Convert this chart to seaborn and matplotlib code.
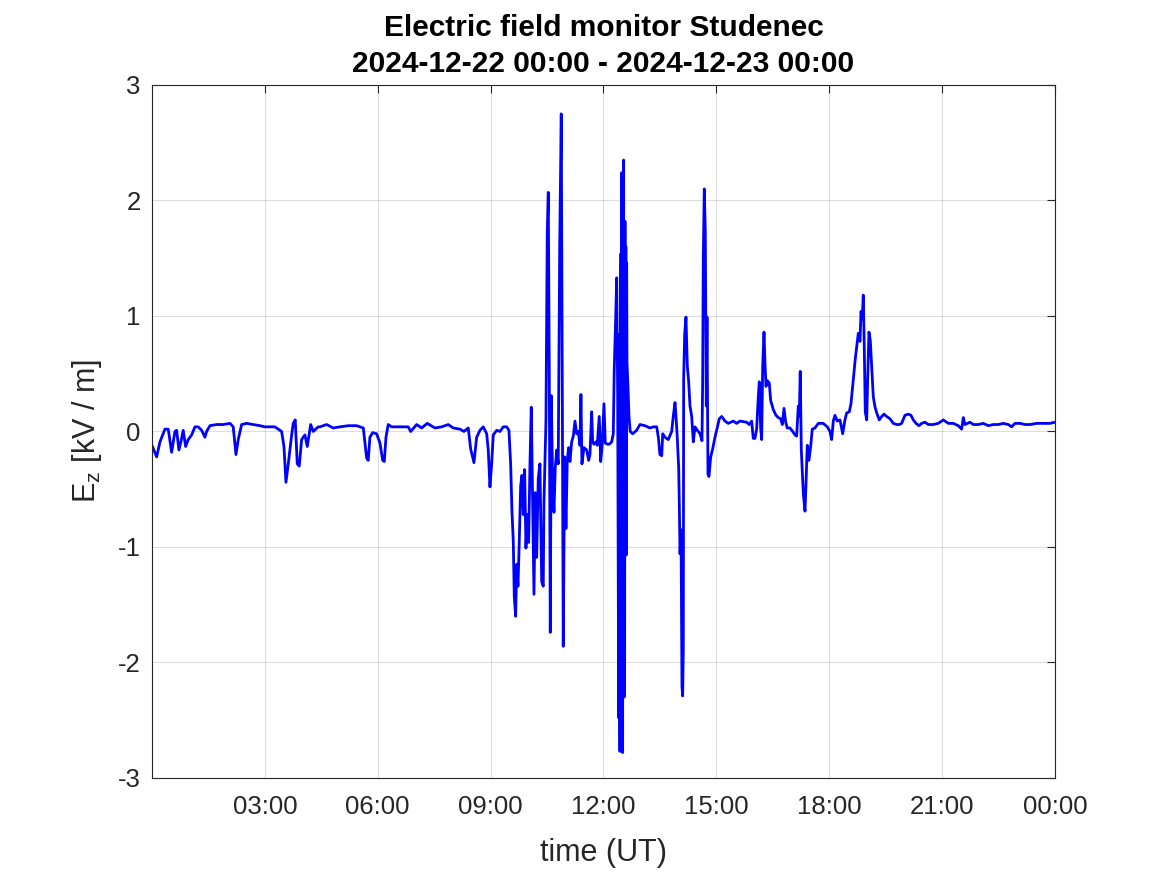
import pandas as pd
import seaborn as sns
import matplotlib.pyplot as plt
import matplotlib.dates as mdates

# Ez record: minutes after 2024-12-22 00:00 UT, values in kV/m
night_min = [0, 7.5, 12.8, 20.7, 26, 31.4, 36.7, 39.4, 43, 46.2, 49.9, 53.7, 57.9, 63.3, 68.6, 73.8,
             79.3, 84.5, 87.2, 92.5, 103.2, 113.7, 124.4, 129.6, 134, 137.6, 143, 151, 161.5, 172.2,
             180.2, 196.1, 201.4, 206.8, 210.5, 213.7, 217.4, 222.8, 225.3, 228.5, 231.7, 234.9,
             238.7, 244, 247.7, 253.1, 257.2, 265.2, 267.9, 278.6, 289.1, 299.8, 313, 326.4, 337,
             342.4, 344.9, 347.6, 351.9, 358.3, 363.6, 367.9, 370.5, 373.2, 376.8, 382.3, 395.5,
             408.7, 412.6, 422.1, 430.1, 439, 451.3, 462, 472.5, 480.5, 491.2, 497.5, 504.4, 508.2,
             513.5, 517.8, 523.1, 528.3, 533.8, 536.3, 539, 541.7, 544.3, 549.7, 555, 560.2, 565.6, 569.3]
night_ez = [-0.12, -0.22, -0.09, 0.02, 0.02, -0.18, 0.0, 0.01, -0.16, -0.09, 0.01, -0.13, -0.07, -0.03,
            0.04, 0.04, 0.01, -0.05, 0.0, 0.05, 0.06, 0.06, 0.07, 0.04, -0.20, -0.07, 0.06, 0.07, 0.06,
            0.05, 0.04, 0.04, 0.02, 0.0, -0.13, -0.44, -0.28, -0.03, 0.07, 0.10, -0.28, -0.30, -0.07,
            -0.03, -0.13, 0.06, 0.0, 0.04, 0.04, 0.06, 0.03, 0.04, 0.05, 0.05, 0.03, -0.23, -0.25,
            -0.05, -0.01, -0.02, -0.10, -0.25, -0.26, -0.05, 0.06, 0.04, 0.04, 0.04, 0.0, 0.06, 0.03,
            0.07, 0.03, 0.04, 0.06, 0.03, 0.02, 0.0, 0.03, -0.15, -0.27, -0.05, 0.01, 0.04, -0.02,
            -0.16, -0.48, -0.28, -0.03, 0.01, 0.0, 0.04, 0.04, 0.01]

storm1_min = [572, 574.1, 576.2, 577.8, 580, 581.6, 583.7, 585.7, 588, 590, 592.1, 594.3, 596.4, 598.5,
              600.7, 602.8, 604.9, 607.1, 609.2, 611.3, 613.5, 616, 618.7, 621.5, 624, 625.1, 628.3,
              630.4, 632, 633.6, 635.2, 636.8, 639, 641.1, 643.1, 645.4, 647.9, 650.2, 652.7, 654.3,
              655.9, 658.1, 660.2, 662.3, 664.5, 666.6, 669.3, 671.9, 674.6, 677.3, 679.8, 682.5,
              684.1, 685.7, 688.9, 693.2, 696.4]
storm1_ez = [-0.28, -0.69, -0.95, -1.43, -1.60, -1.15, -1.34, -0.96, -0.47, -0.38, -0.72, -0.33, -1.01,
             -0.72, -0.96, -0.28, 0.21, -0.65, -1.41, -0.53, -1.09, -0.41, -0.28, -1.30, -1.34, -0.62,
             0.09, 1.73, 2.07, 0.52, -1.74, 0.31, -0.45, -0.70, -0.32, -0.16, -0.28, 1.60, 2.75, 0.49,
             -1.86, -0.22, -0.84, -0.25, -0.14, -0.26, -0.09, -0.04, 0.09, -0.02, 0.0, -0.12, 0.32,
             -0.28, -0.14, -0.16, -0.25]

storm2_min = [698.5, 701.2, 702.8, 704.8, 708, 710.1, 713.3, 715.6, 718.1, 720.8, 722.9, 726.1, 729.3,
              733.1, 735.7, 737.2, 739.5, 741.1, 742.7, 743.5, 744.3, 744.8, 745.5, 746.3, 747.0,
              747.9, 748.5, 749.0, 749.8, 750.6, 751.4, 752.2, 753.0, 753.8, 754.3, 755.0, 755.7,
              756.3, 757.0, 757.5, 759.1, 760.7, 762.7, 766.6, 772.9]
storm2_ez = [-0.20, 0.17, -0.09, -0.11, -0.09, -0.12, 0.13, -0.26, -0.11, 0.24, -0.10, -0.11, -0.11,
             -0.09, -0.02, 0.54, 0.98, 1.33, 0.30, -1.20, -2.48, 0.84, -1.50, -2.77, 0.90, 1.54, -1.80,
             2.24, -2.50, -2.78, 1.90, 2.35, -2.30, -2.01, 1.82, -0.50, 1.60, -1.07, 1.46, 0.60, 0.39,
             0.13, 0.0, -0.02, 0.01]

storm3_min = [778.2, 786.2, 794.2, 799.5, 804.9, 807.5, 810.1, 812.9, 814.5, 818.1, 823.4, 828.8, 831.3,
              834.1, 835.7, 837.7, 840, 841, 842.1, 843.7, 845.2, 846.3, 847.3, 847.9, 849.5, 851.6,
              853.7, 855.9, 858, 860.7, 863.3, 866, 869.6, 874, 877.1, 878.2, 879.2, 880.8, 882.4,
              884, 885.1, 886.7, 888.3, 891, 894.2, 897.8, 900.5, 904.7, 908.5, 913.8, 919, 927,
              932.4, 937.7]
storm3_ez = [0.06, 0.05, 0.03, 0.04, 0.04, -0.05, -0.20, -0.21, -0.02, -0.05, -0.07, 0.0, 0.13, 0.25,
             0.13, -0.05, -0.32, -0.64, -1.06, -0.85, -2.21, -2.29, -1.90, 0.46, 0.84, 0.99, 0.57,
             0.43, 0.22, 0.13, -0.09, 0.04, 0.01, -0.02, -0.08, 0.43, 1.52, 2.10, 1.73, 0.22, 0.99,
             -0.37, -0.39, -0.22, -0.15, -0.05, 0.01, 0.11, 0.13, 0.09, 0.07, 0.09, 0.07, 0.09]

evening_min = [948.3, 952.5, 956.3, 958.9, 961.6, 964.3, 966.9, 968.5, 970.7, 972.3, 973.9, 976, 977.6,
               979.2, 981.2, 984.4, 986.6, 990.8, 995.1, 998.8, 1002.6, 1005.2, 1007.9, 1010.6,
               1013.1, 1017.4, 1021.8, 1025.4, 1028.1, 1030.7, 1032.3, 1033.8, 1035.5, 1037.1,
               1038.7, 1041.4, 1043, 1045, 1047.7, 1050.4, 1053, 1057.3, 1062.6, 1070.5, 1076.9,
               1081.2, 1083.9, 1086.5, 1089.2, 1092.8, 1097.2, 1101.5, 1105.1, 1107.8, 1112, 1114.7,
               1117.4, 1119.5, 1121.6, 1123.8, 1126.4, 1129.1, 1130.7, 1132.7, 1134.3, 1135.9,
               1137.5, 1139.8, 1141.4, 1143.4, 1145.5, 1147.8, 1150.3, 1153.1, 1155.8, 1159.8,
               1163.7, 1167.4, 1171.6, 1176.9, 1182.2, 1187.6, 1191.7]
evening_ez = [0.08, 0.06, 0.09, -0.06, -0.06, 0.02, 0.30, 0.43, 0.03, -0.07, 0.56, 0.86, 0.59, 0.39,
              0.44, 0.42, 0.27, 0.19, 0.14, 0.12, 0.11, 0.06, 0.20, 0.08, 0.03, 0.03, 0.0, -0.03,
              -0.04, 0.22, 0.13, 0.52, -0.16, -0.36, -0.54, -0.69, -0.45, -0.12, -0.25, -0.13, 0.02,
              0.03, 0.07, 0.07, 0.04, 0.0, -0.07, 0.09, 0.14, 0.09, 0.10, -0.02, 0.10, 0.16, 0.17,
              0.24, 0.39, 0.50, 0.63, 0.73, 0.85, 0.78, 1.04, 0.97, 1.18, 0.73, 0.17, 0.10, 0.47,
              0.86, 0.79, 0.56, 0.30, 0.21, 0.16, 0.10, 0.13, 0.15, 0.13, 0.11, 0.07, 0.06, 0.06]

late_min = [1195.5, 1200.8, 1206.1, 1210.4, 1214.1, 1218.4, 1223.1, 1227.5, 1232.7, 1238, 1246,
            1253.9, 1261.9, 1269.9, 1277.9, 1285.8, 1291.2, 1293.8, 1296.5, 1304.5, 1309.7, 1317.7,
            1325.7, 1333.7, 1341.6, 1349.6, 1357.6, 1365.6, 1371, 1376.2, 1384.2, 1392.2, 1400.2,
            1410.8, 1421.4, 1432.1, 1440]
late_ez = [0.07, 0.14, 0.15, 0.14, 0.10, 0.07, 0.05, 0.07, 0.08, 0.06, 0.06, 0.07, 0.10, 0.07, 0.07,
           0.05, 0.02, 0.12, 0.06, 0.08, 0.06, 0.06, 0.07, 0.05, 0.06, 0.06, 0.07, 0.06, 0.04, 0.07,
           0.07, 0.06, 0.06, 0.07, 0.07, 0.07, 0.08]

start = pd.Timestamp('2024-12-22 00:00')
end = pd.Timestamp('2024-12-23 00:00')

minutes = night_min + storm1_min + storm2_min + storm3_min + evening_min + late_min
ez = night_ez + storm1_ez + storm2_ez + storm3_ez + evening_ez + late_ez
df = pd.DataFrame({'time': start + pd.to_timedelta(minutes, unit='min'), 'ez': ez})

sns.set_style('white')
plt.rcParams['font.family'] = ['Liberation Sans', 'DejaVu Sans']
plt.rcParams['axes.unicode_minus'] = False

fig = plt.figure(figsize=(11.67, 8.75), dpi=100)
ax = fig.add_axes([0.1302, 0.1109, 0.7738, 0.792])

sns.lineplot(data=df, x='time', y='ez', ax=ax, color='#0000ff', linewidth=2.0,
             estimator=None, sort=False)

ax.set_xlim(start, end)
ax.set_ylim(-3, 3)
ax.set_yticks(range(-3, 4))
ax.set_xticks(pd.date_range('2024-12-22 03:00', end, freq='3h'))
ax.xaxis.set_major_formatter(mdates.DateFormatter('%H:%M'))

ax.grid(True, color='#262626', alpha=0.15, linewidth=0.8)
ax.set_axisbelow(True)
for sp in ax.spines.values():
    sp.set_visible(True)
    sp.set_color('#262626')
    sp.set_linewidth(0.8)
ax.tick_params(direction='in', length=6, width=0.8, top=True, right=True,
               color='#262626', labelcolor='#262626', labelsize=18.5)
ax.tick_params(axis='x', pad=12)
ax.tick_params(axis='y', pad=8)

ax.set_xlabel('time (UT)', fontsize=22, color='#262626', labelpad=14)
ax.set_ylabel(r'E$_\mathregular{z}$ [kV / m]', fontsize=22, color='#262626', labelpad=10)
ax.set_title('Electric field monitor Studenec\n2024-12-22 00:00 - 2024-12-23 00:00',
             fontsize=21.5, fontweight='bold', color='black', pad=9, linespacing=1.4)

fig.savefig('out.png', dpi=100)
plt.close(fig)
